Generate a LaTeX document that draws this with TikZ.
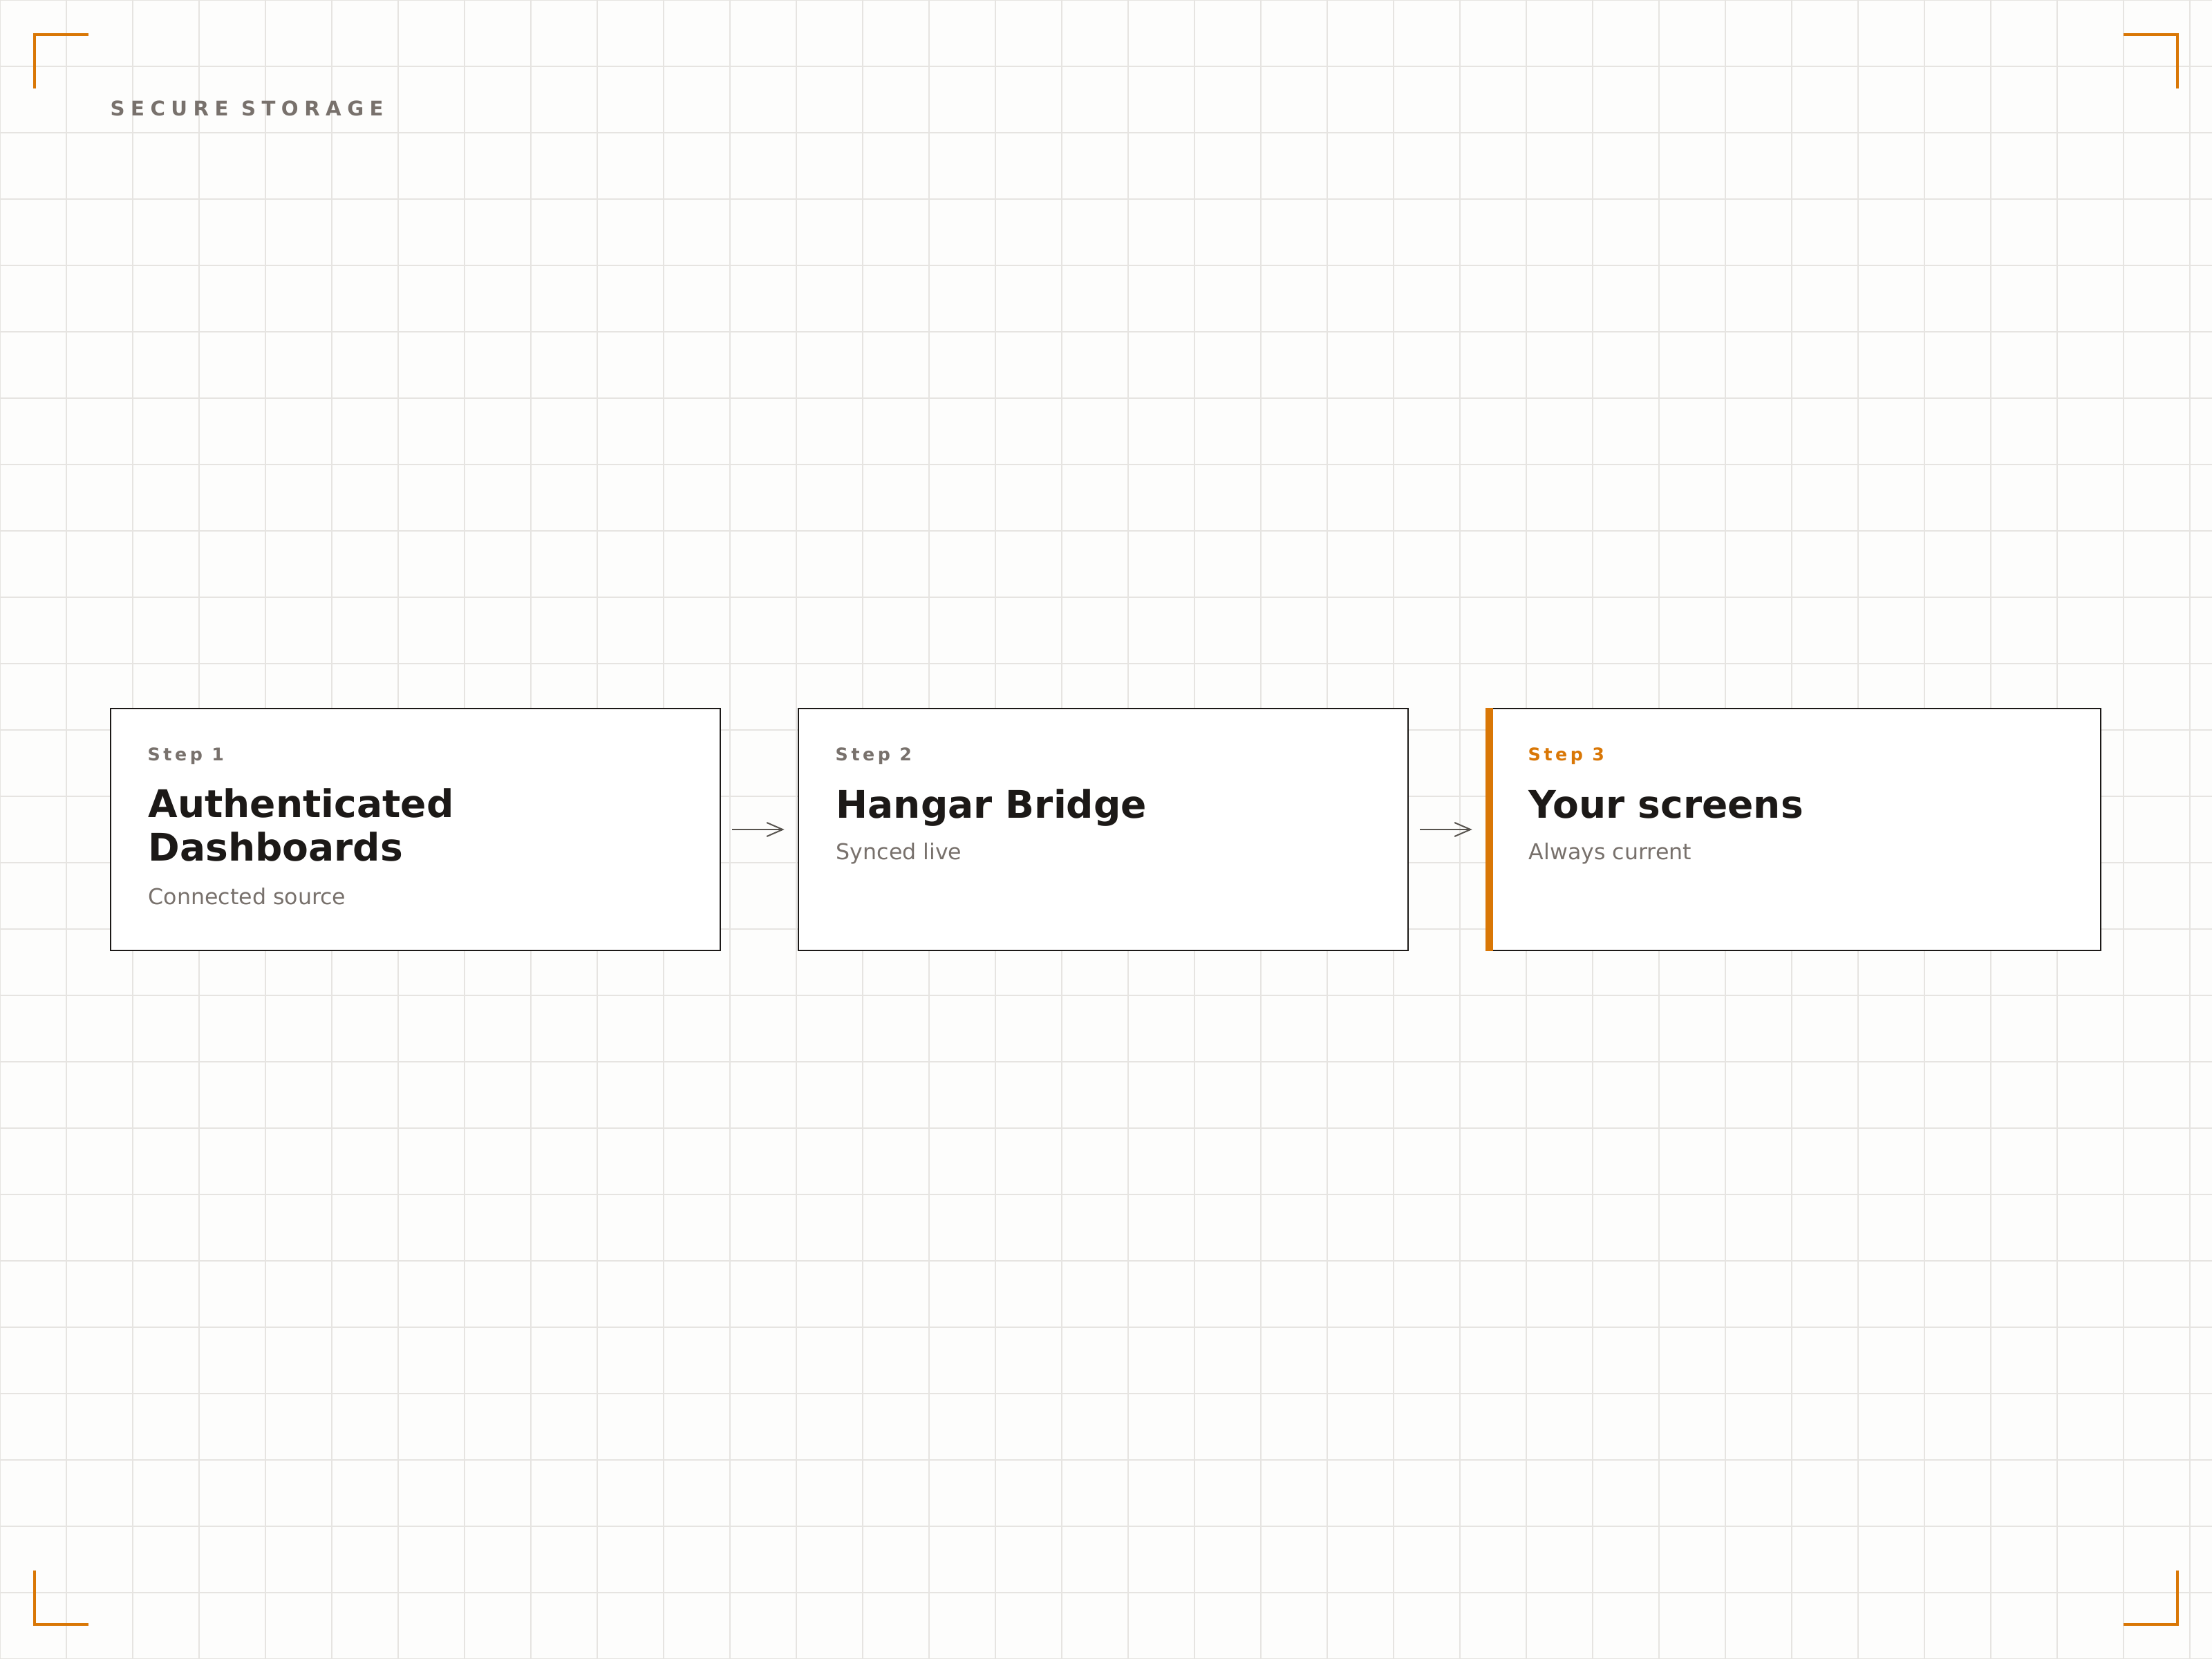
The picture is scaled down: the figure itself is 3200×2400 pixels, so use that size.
\documentclass[tikz,border=0pt]{standalone}
\usepackage{fontspec}
\setmainfont{DejaVu Sans}
\usetikzlibrary{arrows.meta}
\definecolor{bg}{HTML}{FDFDFC}
\definecolor{gridc}{HTML}{E6E4E1}
\definecolor{ink}{HTML}{1C1917}
\definecolor{muted}{HTML}{78716C}
\definecolor{accent}{HTML}{D97706}
\definecolor{arrowc}{HTML}{57534E}
\begin{document}
\begin{tikzpicture}[x=0.01cm,y=-0.01cm,
  box/.style={draw=ink, line width=0.02cm, fill=white, minimum height=3.5cm, inner sep=0pt},
  steplbl/.style={anchor=base west, inner sep=0pt, text=muted,
    font=\fontsize{7.2}{8.5}\selectfont\bfseries\addfontfeature{LetterSpace=18}},
  heading/.style={anchor=base west, inner sep=0pt, text=ink, align=left,
    font=\fontsize{15.65}{17.64}\selectfont\bfseries},
  sub/.style={anchor=base west, inner sep=0pt, text=muted,
    font=\fontsize{9}{11}\selectfont},
  flow/.style={draw=arrowc, line width=0.02cm, -{Straight Barb[length=0.23cm,width=0.2cm,line width=0.02cm]},
    shorten <=0.16cm, shorten >=0.19cm},
  corner/.style={draw=accent, line width=0.04cm, line join=miter},
  gridline/.style={draw=gridc, line width=0.02cm}]
\useasboundingbox (0,0) rectangle (3200,2400);
\fill[bg] (0,0) rectangle (3200,2400);
\foreach \x in {0,96,...,3168} \draw[gridline] (\x,0) -- (\x,2400);
\foreach \y in {0,96,...,2400} \draw[gridline] (0,\y) -- (3200,\y);
% corner marks
\draw[corner] (50,128) -- (50,50) -- (128,50);
\draw[corner] (3072,50) -- (3150,50) -- (3150,128);
\draw[corner] (50,2272) -- (50,2350) -- (128,2350);
\draw[corner] (3072,2350) -- (3150,2350) -- (3150,2272);
% title
\node[anchor=base west, inner sep=0pt, text=muted,
  font=\fontsize{8.3}{10}\selectfont\bfseries\addfontfeature{LetterSpace=29}] (title) at (159,168) {SECURE STORAGE};
% boxes
\node[box, minimum width=8.82cm] (b1) at (601,1200) {};
\node[box, minimum width=8.82cm] (b2) at (1596,1200) {};
\node[box, minimum width=8.89cm] (b3) at (2594.5,1200) {};
\fill[accent] (2149,1024) rectangle (2160,1376);
% texts box 1
\node[steplbl] (s1) at (213,1100) {Step 1};
\node[heading] (h1) at (214,1245) {Authenticated\\Dashboards};
\node[sub] (d1) at (214,1308) {Connected source};
% texts box 2
\node[steplbl] (s2) at (1208,1100) {Step 2};
\node[heading] (h2) at (1209,1183) {Hangar Bridge};
\node[sub] (d2) at (1209,1243) {Synced live};
% texts box 3
\node[steplbl, text=accent] (s3) at (2210,1100) {Step 3};
\node[heading] (h3) at (2211,1183) {Your screens};
\node[sub] (d3) at (2211,1243) {Always current};
% arrows
\draw[flow] (b1.east) -- (b2.west);
\draw[flow] (b2.east) -- (b3.west);
\end{tikzpicture}
\end{document}
